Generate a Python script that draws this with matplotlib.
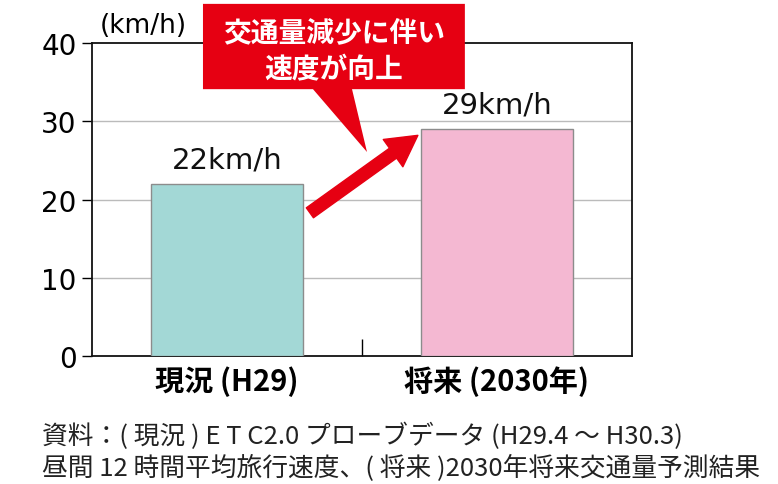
import matplotlib.pyplot as plt
from matplotlib.patches import Polygon

plt.rcParams['font.family'] = ['Noto Sans CJK JP', 'DejaVu Sans']

# data
categories = ["現況 (H29)", "将来 (2030年)"]
speeds = [22, 29]
value_labels = ["22km/h", "29km/h"]
bar_colors = ["#a3d8d6", "#f4b8d2"]
yticks = [0, 10, 20, 30, 40]
callout_text = "交通量減少に伴い\n速度が向上"
source_text = ("資料：( 現況 ) E T C2.0 プローブデータ (H29.4 ～ H30.3)\n"
               "昼間 12 時間平均旅行速度、( 将来 )2030年将来交通量予測結果")

red = "#e60012"
num_font = ['DejaVu Sans']

fig = plt.figure(figsize=(7.78, 4.85), dpi=100)
ax = fig.add_axes([92 / 778, 1 - 357 / 485, 540 / 778, 313 / 485])

x = list(range(len(categories)))
ax.bar(x, speeds, width=0.563, color=bar_colors, edgecolor="#8c8c8c",
       linewidth=1, zorder=3)
for xi, v, lab in zip(x, speeds, value_labels):
    ax.text(xi, v + 1.3, lab, ha="center", va="bottom", fontsize=21,
            color="#111111", family=num_font)

ax.set_xlim(-0.5, 1.5)
ax.set_ylim(0, 40)
ax.set_yticks(yticks)
ax.set_yticklabels([str(t) for t in yticks], fontsize=20, family=num_font)
ax.tick_params(axis="y", direction="out", length=7, width=1, pad=4)
ax.set_xticks([0.5])
ax.set_xticklabels([""])
ax.tick_params(axis="x", direction="in", length=12, width=1)
for yv in [10, 20, 30]:
    ax.axhline(yv, color="#bbbbbb", linewidth=1, zorder=1)
for s in ax.spines.values():
    s.set_linewidth(1.3)
    s.set_color("#111111")

for xi, c in zip(x, categories):
    ax.text(xi, -1.2, c, ha="center", va="top", fontsize=21,
            fontweight="bold", transform=ax.transData, clip_on=False)

ax.text(-0.47, 42.3, "(km/h)", fontsize=19, ha="left", va="center",
        clip_on=False, family=num_font)

# callout box with pointer
box = Polygon([(-0.089, 45.0), (0.881, 45.0), (0.881, 34.1), (0.463, 34.1),
               (0.5185, 26.07), (0.3185, 34.1), (-0.089, 34.1)],
              closed=True, facecolor=red, edgecolor="none", zorder=5,
              clip_on=False)
ax.add_patch(box)
ax.text(0.396, 39.0, callout_text, ha="center", va="center", fontsize=20,
        fontweight="bold", color="white", linespacing=1.4, zorder=6,
        clip_on=False)

# arrow
ax.annotate("", xy=(0.707, 28.2), xytext=(0.307, 18.3),
            arrowprops=dict(arrowstyle="simple,head_length=1.0,head_width=1.1,tail_width=0.4",
                            mutation_scale=22, color=red, shrinkA=0, shrinkB=0),
            zorder=6)

fig.text(42 / 778, 1 - 452 / 485, source_text, ha="left", va="center",
         fontsize=18.5, color="#222222", linespacing=1.22)

fig.savefig("out.png", dpi=100)
